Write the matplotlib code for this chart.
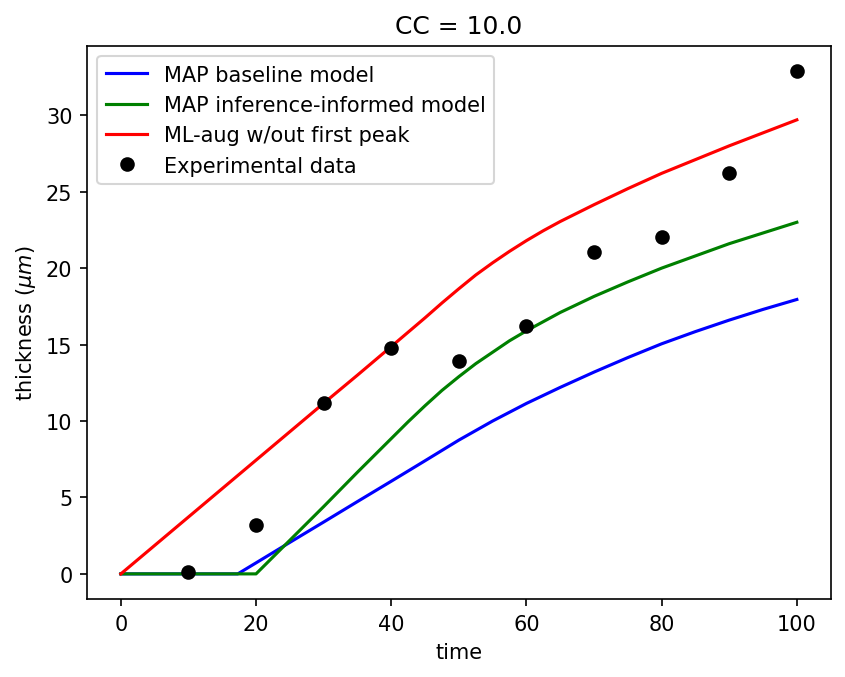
import matplotlib
matplotlib.use('agg')
import matplotlib.pyplot as plt

# experimental data
t_data = [10, 20, 30, 40, 50, 60, 70, 80, 90, 100]
h_data = [0.15, 3.2, 11.15, 14.8, 13.9, 16.2, 21.05, 22.05, 26.2, 32.9]

# MAP baseline model
t_base = [0, 5, 10, 15, 17.3, 20, 25, 30, 35, 40, 45, 50, 55, 60, 65, 70, 75, 80, 85, 90, 95, 100]
h_base = [0, 0, 0, 0, 0, 0.72, 2.06, 3.39, 4.73, 6.06, 7.4, 8.75, 10.0, 11.15, 12.2, 13.2, 14.15,
          15.05, 15.85, 16.6, 17.3, 17.95]

# MAP inference-informed model
t_inf = [0, 5, 10, 15, 20, 25, 30, 35, 40, 42.5, 45, 47.5, 50, 52.5, 55, 57.5, 60, 65, 70, 75,
         80, 85, 90, 95, 100]
h_inf = [0, 0, 0, 0, 0, 2.2, 4.4, 6.65, 8.85, 9.95, 11.0, 12.0, 12.9, 13.75, 14.5, 15.25, 15.9,
         17.1, 18.15, 19.1, 20.0, 20.8, 21.6, 22.3, 23.0]

# ML-aug w/out first peak
t_ml = [0, 5, 10, 15, 20, 25, 30, 35, 40, 45, 47.5, 50, 52.5, 55, 57.5, 60, 62.5, 65, 70, 75,
        80, 85, 90, 95, 100]
h_ml = [0, 1.86, 3.72, 5.58, 7.44, 9.3, 11.16, 13.0, 14.87, 16.75, 17.72, 18.65, 19.55, 20.35,
        21.1, 21.8, 22.45, 23.05, 24.15, 25.2, 26.2, 27.1, 28.0, 28.85, 29.7]

fig = plt.figure(figsize=(845 / 150, 678 / 150), dpi=150)
axis = plt.gca()
plt.subplots_adjust(left=0.103, right=0.983, top=0.931, bottom=0.115)

plt.plot(t_base, h_base, color="blue", label="MAP baseline model")
plt.plot(t_inf, h_inf, color="green", label="MAP inference-informed model")
plt.plot(t_ml, h_ml, color="red", label="ML-aug w/out first peak")
plt.plot(t_data, h_data, "ko", label="Experimental data")

plt.xlabel("time")
plt.ylabel(r"thickness ($\mu m$)")
plt.title("CC = 10.0")
plt.legend(loc="upper left")

plt.savefig("out.png", dpi=150)
